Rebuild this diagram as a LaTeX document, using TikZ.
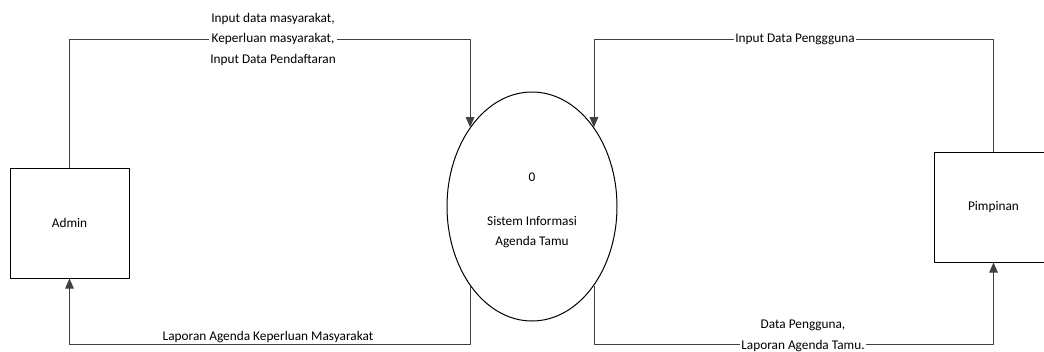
\documentclass[tikz,border=0pt]{standalone}
\usepackage{fontspec}
\setmainfont{Carlito}
\usetikzlibrary{shapes.geometric,arrows.meta}
\begin{document}
\begin{tikzpicture}[x=1pt, y=-1pt, font=\fontsize{13.3}{20.5}\selectfont, line join=round, >={Triangle[length=10pt,width=8.5pt]},
  entity/.style={draw, line width=1pt, minimum width=119pt, minimum height=110pt, inner sep=0pt},
  proc/.style={draw, ellipse, line width=1pt, minimum width=170pt, minimum height=229pt, align=center, inner sep=0pt},
  flow/.style={->, draw=black!75, line width=0.8pt},
  lbl/.style={fill=white, inner sep=1pt, align=center}]
\useasboundingbox (0,0) rectangle (1044,351);
\path (0,39) coordinate (T) (0,344) coordinate (U);
\node[entity] (admin) at (69.5,223) {Admin};
\node[entity] (pimpinan) at (993.5,207) {Pimpinan};
\node[proc] (sis) at (532,206.5) {\mbox{}\\[-4pt]0\\[23pt]Sistem Informasi\\Agenda Tamu};
\draw[flow] (admin.north) -- (admin.north |- T) -| (sis.128);
\draw[flow] (sis.232) -- (sis.232 |- U) -| (admin.south);
\draw[flow] (pimpinan.north) -- (pimpinan.north |- T) -| (sis.52);
\draw[flow] (sis.308) -- (sis.308 |- U) -| (pimpinan.south);
\node[lbl] (inadmin) at (273,39) {Input data masyarakat,\\Keperluan masyarakat,\\Input Data Pendaftaran};
\node[lbl] (lapadmin) at (268,337) {Laporan Agenda Keperluan Masyarakat};
\node[lbl] (inpimpinan) at (795,39) {Input Data Penggguna};
\node[lbl] (lappimpinan) at (803,336) {Data Pengguna,\\Laporan Agenda Tamu.};
\end{tikzpicture}
\end{document}
